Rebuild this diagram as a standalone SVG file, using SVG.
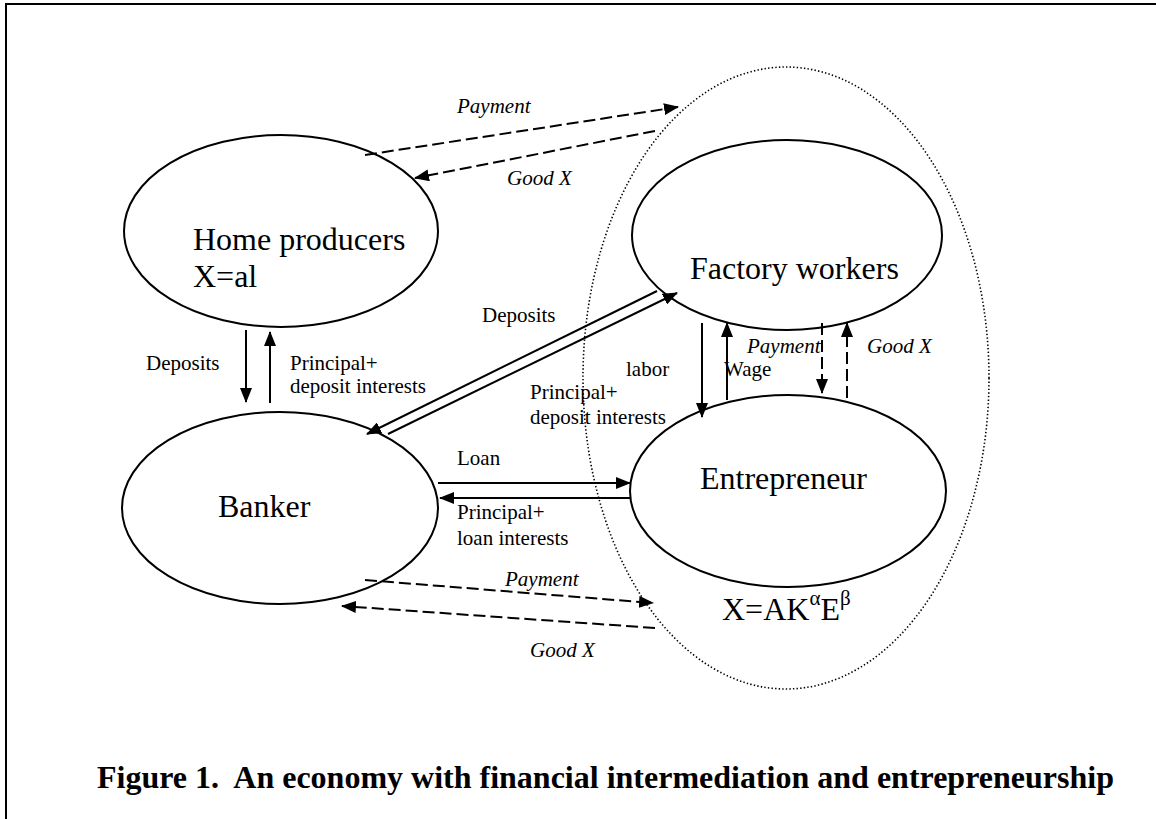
<svg xmlns="http://www.w3.org/2000/svg" width="1156" height="819" viewBox="0 0 1156 819">
  <style>
    .frame { fill: none; stroke: #000; stroke-width: 2; }
    .node ellipse { fill: none; stroke: #000; stroke-width: 2; }
    .group-oval { fill: none; stroke: #000; stroke-width: 1.6; stroke-dasharray: 1.4 2.2; }
    text { font-family: "Liberation Serif", "Times New Roman", serif; fill: #000; }
    .name { font-size: 32px; }
    .lbl { font-size: 21px; }
    .it { font-style: italic; }
    .caption { font-size: 32px; font-weight: bold; white-space: pre; }
    .flow { fill: none; stroke: #000; stroke-width: 2; marker-end: url(#head); }
    .dash { stroke-dasharray: 12 5; }
  </style>
  <defs>
    <marker id="head" markerUnits="userSpaceOnUse" markerWidth="16" markerHeight="12" refX="14" refY="6" orient="auto">
      <path d="M0,0 L15,6 L0,12 Z" fill="#000"/>
    </marker>
  </defs>

  <rect width="1156" height="819" fill="#fff"/>
  <!-- page frame (left and top edges) -->
  <path class="frame" d="M6,819 V4 H1156"/>

  <!-- boundary of the production sector -->
  <ellipse class="group-oval" cx="786" cy="378" rx="203" ry="311"/>

  <g id="home-producers" class="node">
    <ellipse cx="281" cy="231" rx="157" ry="96"/>
    <text class="name" x="193" y="250">Home producers</text>
    <text class="name" x="193" y="287">X=al</text>
  </g>

  <g id="banker" class="node">
    <ellipse cx="280" cy="508" rx="158" ry="96"/>
    <text class="name" x="218" y="517">Banker</text>
  </g>

  <g id="factory-workers" class="node">
    <ellipse cx="787" cy="235" rx="155" ry="95"/>
    <text class="name" x="690" y="279">Factory workers</text>
  </g>

  <g id="entrepreneur" class="node">
    <ellipse cx="788" cy="491" rx="158" ry="96"/>
    <text class="name" x="700" y="489">Entrepreneur</text>
    <text class="name" x="722" y="620">X=AK<tspan class="lbl" dy="-15">α</tspan><tspan dy="15">E</tspan><tspan class="lbl" dy="-15">β</tspan></text>
  </g>

  <g id="connectors">
    <!-- home producers <-> factory -->
    <path class="flow dash" d="M365,155 L678,107"/>
    <path class="flow dash" d="M655,131 L415,178"/>
    <text class="lbl it" x="457" y="113">Payment</text>
    <text class="lbl it" x="507" y="185">Good X</text>

    <!-- home producers <-> banker -->
    <path class="flow" d="M246,330 L246,402"/>
    <path class="flow" d="M270,403 L270,332"/>
    <text class="lbl" x="146" y="370">Deposits</text>
    <text class="lbl" x="290" y="370">Principal+</text>
    <text class="lbl" x="290" y="393">deposit interests</text>

    <!-- factory workers <-> banker -->
    <path class="flow" d="M657,291 L367,434"/>
    <path class="flow" d="M388,434 L677,293"/>
    <text class="lbl" x="482" y="322">Deposits</text>
    <text class="lbl" x="530" y="399">Principal+</text>
    <text class="lbl" x="530" y="424">deposit interests</text>

    <!-- factory workers <-> entrepreneur -->
    <path class="flow" d="M702,323 L702,417"/>
    <path class="flow" d="M727,400 L727,323"/>
    <path class="flow dash" d="M822,323 L822,393"/>
    <path class="flow dash" d="M847,398 L847,323"/>
    <text class="lbl" x="626" y="376">labor</text>
    <text class="lbl" x="724" y="376">Wage</text>
    <text class="lbl it" x="747" y="353">Payment</text>
    <text class="lbl it" x="867" y="353">Good X</text>

    <!-- banker <-> entrepreneur -->
    <path class="flow" d="M438,483 L630,483"/>
    <path class="flow" d="M630,498 L440,498"/>
    <text class="lbl" x="457" y="465">Loan</text>
    <text class="lbl" x="457" y="519">Principal+</text>
    <text class="lbl" x="457" y="545">loan interests</text>

    <!-- banker <-> factory -->
    <path class="flow dash" d="M365,580 L653,603"/>
    <path class="flow dash" d="M655,628 L342,606"/>
    <text class="lbl it" x="505" y="586">Payment</text>
    <text class="lbl it" x="530" y="657">Good X</text>
  </g>

  <text class="caption" x="97" y="788">Figure 1.  An economy with financial intermediation and entrepreneurship</text>
</svg>
